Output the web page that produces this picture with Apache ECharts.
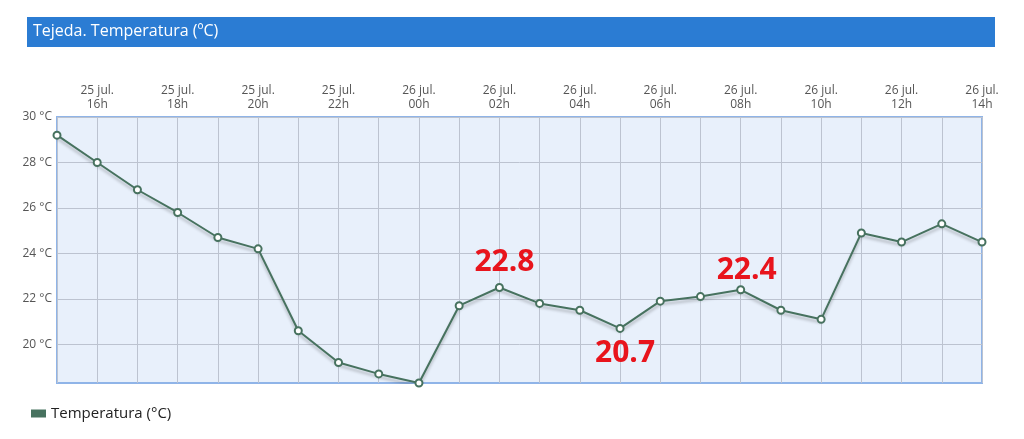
<!DOCTYPE html>
<html>
<head>
<meta charset="utf-8">
<script src="https://cdn.jsdelivr.net/npm/echarts@6/dist/echarts.min.js"></script>
<style>
html,body{margin:0;padding:0;background:#fff;}
#c{width:1024px;height:439px;}
</style>
</head>
<body>
<div id="c"></div>
<script>
var categories = [
  '25 jul.\n15h','25 jul.\n16h','25 jul.\n17h','25 jul.\n18h','25 jul.\n19h','25 jul.\n20h',
  '25 jul.\n21h','25 jul.\n22h','25 jul.\n23h','26 jul.\n00h','26 jul.\n01h','26 jul.\n02h',
  '26 jul.\n03h','26 jul.\n04h','26 jul.\n05h','26 jul.\n06h','26 jul.\n07h','26 jul.\n08h',
  '26 jul.\n09h','26 jul.\n10h','26 jul.\n11h','26 jul.\n12h','26 jul.\n13h','26 jul.\n14h'
];
var temperature = [29.2, 28.0, 26.8, 25.8, 24.7, 24.2, 20.6, 19.2, 18.7, 18.3, 21.7, 22.5,
                   21.8, 21.5, 20.7, 21.9, 22.1, 22.4, 21.5, 21.1, 24.9, 24.5, 25.3, 24.5];
var yTicks = [20, 22, 24, 26, 28, 30];
var yMin = 18.3, yMax = 30;
var annotations = [
  {index: 11, text: '22.8'},
  {index: 14, text: '20.7'},
  {index: 17, text: '22.4'}
];
var seriesName = 'Temperatura (°C)';
var titleText = 'Tejeda. Temperatura (ºC)';

// label placement styles (kept apart from data)
var annStyle = {
  11: {position: 'top', distance: 6, offset: [5, 0]},
  14: {position: 'bottom', distance: 6, offset: [5, 0]},
  17: {position: 'top', distance: 0, offset: [6, 0]}
};

var lineColor = '#47725f';
var font = '"Open Sans", "Noto Sans", sans-serif';

var seriesData = temperature.map(function (v, i) {
  var ann = annotations.filter(function (a) { return a.index === i; })[0];
  if (!ann) return v;
  var st = annStyle[i];
  return {
    value: v,
    label: {
      show: true,
      formatter: ann.text,
      position: st.position,
      distance: st.distance,
      offset: st.offset,
      color: '#e8141c',
      fontSize: 30,
      fontWeight: 'bold',
      fontFamily: font
    }
  };
});

var chart = echarts.init(document.getElementById('c'), null, {renderer: 'canvas'});
chart.setOption({
  animation: false,
  textStyle: {fontFamily: font},
  graphic: [
    {type: 'rect', left: 27, top: 17, shape: {width: 968, height: 30}, style: {fill: '#2b7cd3'}, z: 0},
    {type: 'text', left: 33, top: 23, style: {text: titleText, fill: '#fff', font: '16px ' + font}, z: 1}
  ],
  grid: {
    left: 57, right: 42, top: 117, bottom: 56,
    show: true, backgroundColor: '#e8f0fb', borderColor: '#8fb4e8', borderWidth: 2
  },
  legend: {
    left: 26, top: 401,
    icon: 'rect', itemWidth: 15, itemHeight: 8, itemGap: 10, itemGap: 10,
    textStyle: {color: '#222', fontSize: 15, fontFamily: font},
    data: [{name: seriesName, itemStyle: {color: lineColor, borderWidth: 0}}]
  },
  xAxis: {
    type: 'category',
    position: 'top',
    boundaryGap: false,
    data: categories,
    axisLine: {show: false},
    axisTick: {show: false},
    axisLabel: {
      interval: function (i) { return i % 2 === 1; },
      color: '#555', fontSize: 12, lineHeight: 14, margin: 5
    },
    splitLine: {show: true, interval: 0, lineStyle: {color: '#bcc3d0', width: 1}}
  },
  yAxis: {
    type: 'value',
    min: yMin, max: yMax,
    axisLine: {show: false},
    axisTick: {show: false, customValues: yTicks},
    axisLabel: {
      customValues: yTicks,
      color: '#555', fontSize: 12, margin: 5,
      formatter: function (v) { return v + ' °C'; }
    },
    splitLine: {show: true, lineStyle: {color: '#bcc3d0', width: 1}}
  },
  series: [{
    name: seriesName,
    type: 'line',
    data: seriesData,
    symbol: 'circle',
    symbolSize: 7,
    showAllSymbol: true,
    lineStyle: {color: lineColor, width: 2, shadowColor: 'rgba(0,0,0,0.25)', shadowBlur: 3, shadowOffsetY: 3},
    itemStyle: {color: '#fff', borderColor: lineColor, borderWidth: 2}
  }]
});
</script>
</body>
</html>
